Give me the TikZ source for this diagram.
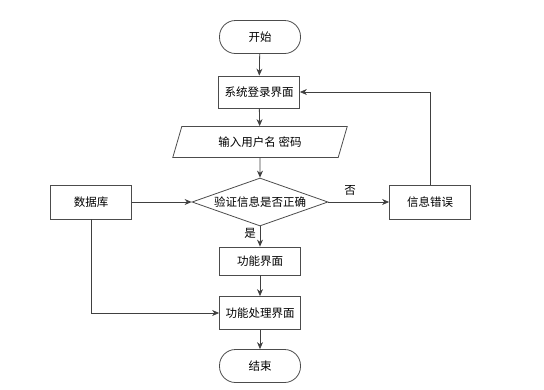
\documentclass[tikz,border=0pt]{standalone}
\usepackage{fontspec}
\newfontfamily\cjk{Noto Sans CJK SC}
\usepackage{tikz}
\usetikzlibrary{shapes.geometric, arrows.meta, calc}

\begin{document}
\begin{tikzpicture}[x=1pt, y=-1pt,
    every node/.style={font=\cjk\fontsize{11.5}{13}\selectfont, text=black},
    flowline/.style={draw=black!75, line width=0.8pt, -{Stealth[length=7pt,width=6pt]}},
    procbox/.style={draw=black!70, line width=0.8pt, minimum width=81pt, minimum height=33pt, inner sep=0pt},
    termbox/.style={draw=black!70, line width=0.8pt, rounded corners=16pt, minimum width=81pt, minimum height=33pt, inner sep=0pt},
    iobox/.style={draw=black!70, line width=0.8pt, trapezium, trapezium left angle=66, trapezium right angle=114,
        minimum width=176pt, minimum height=31pt, inner sep=0pt, trapezium stretches=true},
    decbox/.style={draw=black!70, line width=0.8pt, diamond, aspect=2.83, minimum width=136pt, minimum height=48pt, inner sep=0pt},
    lbl/.style={inner sep=1pt}
]
    \useasboundingbox (0,0) rectangle (544,389);

    \node[termbox] (start) at (260,37) {开始};
    \node[procbox, minimum height=32pt] (login) at (259,92) {系统登录界面};
    \node[iobox] (input) at (260,142) {输入用户名 密码};
    \node[decbox] (check) at (260,202) {验证信息是否正确};
    \node[procbox, minimum height=34pt] (db) at (91,202) {数据库};
    \node[procbox, minimum height=34pt] (err) at (430,202) {信息错误};
    \node[procbox, minimum height=28pt] (func) at (260,261) {功能界面};
    \node[procbox] (proc) at (260,313) {功能处理界面};
    \node[termbox] (end) at (260,366) {结束};

    % main flow
    \draw[flowline] (start) -- (login);
    \draw[flowline] (login) -- (input);
    \draw[flowline] (input) -- (check);
    \draw[flowline] (check) -- (func);
    \draw[flowline] (func) -- (proc);
    \draw[flowline] (proc) -- (end);

    % database links
    \draw[flowline] (db) -- (check);
    \draw[flowline] (db.south) |- (proc.west);

    % error branch
    \draw[flowline] (check) -- (err);
    \draw[flowline] (err.north) |- (login.east);

    \node[lbl] (no) at (350,190) {否};
    \node[lbl] (yes) at (250,233) {是};
\end{tikzpicture}
\end{document}
